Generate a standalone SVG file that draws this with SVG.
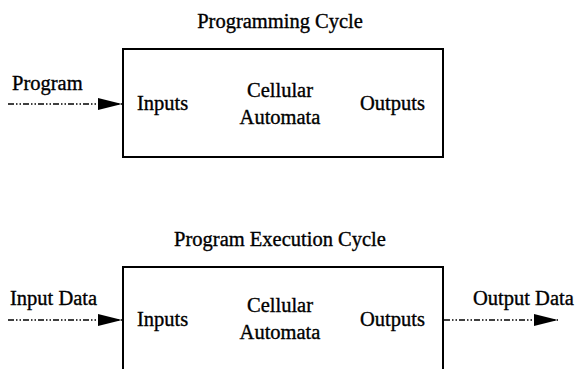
<svg xmlns="http://www.w3.org/2000/svg" width="581" height="369" viewBox="0 0 581 369">
  <defs>
    <marker id="arrow" viewBox="0 0 24 12" refX="24" refY="6" markerWidth="24" markerHeight="12" markerUnits="userSpaceOnUse" orient="auto">
      <path d="M0,0 L24,6 L0,12 Z" fill="#000"/>
    </marker>
    <style>
      text { font-family: "Liberation Serif", "Times New Roman", serif; font-size: 20.5px; fill: #000; stroke: #000; stroke-width: 0.35; }
      .mid { text-anchor: middle; }
      .box { fill: #fff; stroke: #000; stroke-width: 2; }
      .flow { fill: none; stroke: #000; stroke-width: 1.6; stroke-dasharray: 6 2 1.5 2 1.5 2; marker-end: url(#arrow); }
    </style>
  </defs>

  <!-- Programming cycle -->
  <g id="programming-cycle">
    <text class="mid" x="280" y="28">Programming Cycle</text>
    <rect class="box" x="123" y="49" width="320" height="108"/>
    <text x="137" y="110">Inputs</text>
    <text class="mid" x="280" y="97">Cellular</text>
    <text class="mid" x="280" y="124">Automata</text>
    <text x="360" y="110">Outputs</text>
  </g>

  <g id="program-label">
    <text x="12" y="90">Program</text>
  </g>

  <!-- Program execution cycle -->
  <g id="execution-cycle">
    <text class="mid" x="280" y="246">Program Execution Cycle</text>
    <path class="box" d="M123,369 L123,267 L443,267 L443,369"/>
    <text x="137" y="326">Inputs</text>
    <text class="mid" x="280" y="312">Cellular</text>
    <text class="mid" x="280" y="339">Automata</text>
    <text x="360" y="326">Outputs</text>
  </g>

  <g id="input-data-label">
    <text x="10" y="305">Input Data</text>
  </g>
  <g id="output-data-label">
    <text x="473" y="305">Output Data</text>
  </g>

  <!-- Connectors -->
  <g id="connectors">
    <line class="flow" x1="8" y1="104" x2="122" y2="104"/>
    <line class="flow" x1="8" y1="320" x2="122" y2="320"/>
    <line class="flow" x1="444" y1="320" x2="558" y2="320"/>
  </g>
</svg>
